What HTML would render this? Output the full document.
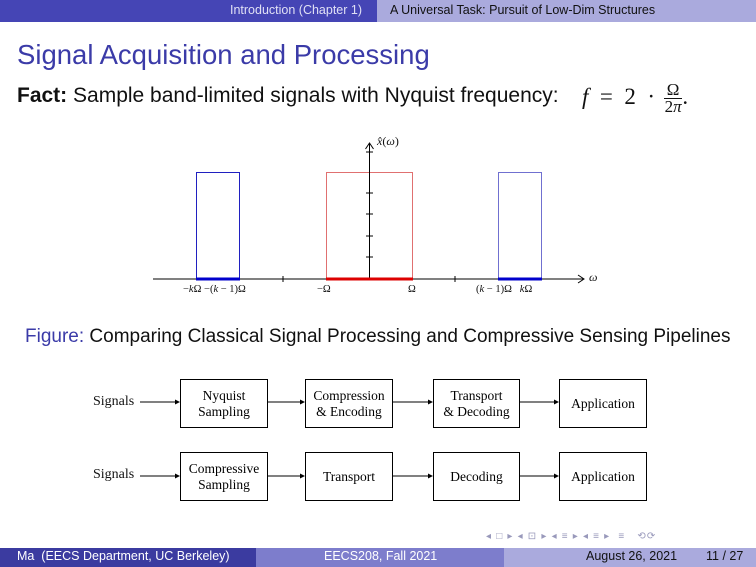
<!DOCTYPE html>
<html><head><style>
body{margin:0;width:756px;height:567px;overflow:hidden;background:#fff;font-family:"Liberation Sans",sans-serif;position:relative}
.a{position:absolute;white-space:nowrap}
.s{font-family:"Liberation Serif",serif;font-size:14px;color:#111}
.box{position:absolute;border:1.6px solid #000;box-sizing:border-box;display:flex;align-items:center;justify-content:center;text-align:center;font-family:"Liberation Serif",serif;font-size:13.5px;line-height:16px}
</style></head><body>
<div class="a" style="left:0;top:0;width:377px;height:22px;background:#4545b5"></div>
<div class="a" style="left:377px;top:0;width:379px;height:22px;background:#aaaadd"></div>
<div class="a" style="left:230px;top:3px;font-size:12.5px;color:#e0e0f5">Introduction (Chapter 1)</div>
<div class="a" style="left:390px;top:3px;font-size:12.5px;color:#111">A Universal Task: Pursuit of Low-Dim Structures</div>
<div class="a" style="left:17px;top:39px;font-size:27.5px;color:#3b3ba8">Signal Acquisition and Processing</div>
<div class="a" style="left:17px;top:84px;font-size:21px;color:#111"><b>Fact:</b> Sample band-limited signals with Nyquist frequency:</div>
<div class="a" style="left:582px;top:82px;font-size:23px;color:#111;font-family:'Liberation Serif',serif"><i>f</i>&nbsp; = &nbsp;2 &nbsp;· <span style="display:inline-block;vertical-align:middle;text-align:center;font-size:17px;line-height:16px;margin-left:3px"><span style="display:block;border-bottom:1px solid #111;padding:0 3px">Ω</span><span style="display:block">2<i>π</i></span></span>.</div>
<svg class="a" style="left:0;top:0" width="756" height="567">
<g fill="none" stroke-width="1">
<rect x="196.5" y="172.5" width="43" height="107" stroke="#2020c0"/>
<rect x="498.5" y="172.5" width="43" height="107" stroke="#7070d0"/>
<rect x="326.5" y="172.5" width="86" height="107" stroke="#e07070"/>
</g>
<line x1="153" y1="279" x2="583" y2="279" stroke="#000" stroke-width="1"/>
<path d="M578 275 L584 279 L578 283" fill="none" stroke="#000"/>
<line x1="369.5" y1="279" x2="369.5" y2="144" stroke="#000" stroke-width="1"/>
<path d="M365.5 149 L369.5 143 L373.5 149" fill="none" stroke="#000"/>
<g stroke="#000"><line x1="283" y1="276" x2="283" y2="282"/><line x1="455" y1="276" x2="455" y2="282"/>
<line x1="366" y1="152" x2="373" y2="152"/><line x1="366" y1="193" x2="373" y2="193"/><line x1="366" y1="214" x2="373" y2="214"/><line x1="366" y1="236" x2="373" y2="236"/><line x1="366" y1="257" x2="373" y2="257"/></g>
<line x1="196" y1="279" x2="240" y2="279" stroke="#0000cc" stroke-width="3"/>
<line x1="498" y1="279" x2="542" y2="279" stroke="#0000cc" stroke-width="3"/>
<line x1="326" y1="279" x2="413" y2="279" stroke="#dd0000" stroke-width="3"/>
<g stroke="#000" stroke-width="1">
<line x1="140" y1="402" x2="178" y2="402"/><line x1="268" y1="402" x2="303" y2="402"/><line x1="393" y1="402" x2="431" y2="402"/><line x1="520" y1="402" x2="557" y2="402"/>
<line x1="140" y1="476" x2="178" y2="476"/><line x1="268" y1="476" x2="303" y2="476"/><line x1="393" y1="476" x2="431" y2="476"/><line x1="520" y1="476" x2="557" y2="476"/>
</g>
<g fill="#000"><path d="M180 402 l-5 -2.5 v5z"/><path d="M305 402 l-5 -2.5 v5z"/><path d="M433 402 l-5 -2.5 v5z"/><path d="M559 402 l-5 -2.5 v5z"/>
<path d="M180 476 l-5 -2.5 v5z"/><path d="M305 476 l-5 -2.5 v5z"/><path d="M433 476 l-5 -2.5 v5z"/><path d="M559 476 l-5 -2.5 v5z"/></g>
</svg>
<div class="a s" style="left:377px;top:134px;font-size:12px"><i>x̂</i>(<i>ω</i>)</div>
<div class="a s" style="left:589px;top:270px;font-size:12px"><i>ω</i></div>
<div class="a s" style="left:183px;top:284px;font-size:10.5px">−<i>k</i>Ω −(<i>k</i> − 1)Ω</div>
<div class="a s" style="left:317px;top:284px;font-size:10.5px">−Ω</div>
<div class="a s" style="left:408px;top:284px;font-size:10.5px">Ω</div>
<div class="a s" style="left:476px;top:284px;font-size:10.5px">(<i>k</i> − 1)Ω &nbsp;&nbsp;<i>k</i>Ω</div>
<div class="a" style="left:25px;top:326px;font-size:19px;color:#111"><span style="color:#3b3ba8">Figure:</span> Comparing Classical Signal Processing and Compressive Sensing Pipelines</div>
<div class="a s" style="left:93px;top:394px">Signals</div>
<div class="a s" style="left:93px;top:467px">Signals</div>
<div class="box" style="left:180px;top:379px;width:88px;height:49px">Nyquist<br>Sampling</div>
<div class="box" style="left:305px;top:379px;width:88px;height:49px">Compression<br>&amp; Encoding</div>
<div class="box" style="left:433px;top:379px;width:87px;height:49px">Transport<br>&amp; Decoding</div>
<div class="box" style="left:559px;top:379px;width:88px;height:49px">Application</div>
<div class="box" style="left:180px;top:452px;width:88px;height:49px">Compressive<br>Sampling</div>
<div class="box" style="left:305px;top:452px;width:88px;height:49px">Transport</div>
<div class="box" style="left:433px;top:452px;width:87px;height:49px">Decoding</div>
<div class="box" style="left:559px;top:452px;width:88px;height:49px">Application</div>
<div class="a" style="left:486px;top:531px;font-size:10px;color:#9999bb;letter-spacing:1.2px">◂ □ ▸ ◂ ⊡ ▸ ◂ ≡ ▸ ◂ ≡ ▸ &nbsp;≡ &nbsp;&nbsp;⟲⟳</div>
<div class="a" style="left:0;top:548px;width:256px;height:19px;background:#3b3ba0"></div>
<div class="a" style="left:256px;top:548px;width:248px;height:19px;background:#7d7dcc"></div>
<div class="a" style="left:504px;top:548px;width:252px;height:19px;background:#aaaadd"></div>
<div class="a" style="left:17px;top:549px;font-size:12.5px;color:#fff">Ma &nbsp;(EECS Department, UC Berkeley)</div>
<div class="a" style="left:324px;top:549px;font-size:12.5px;color:#fff">EECS208, Fall 2021</div>
<div class="a" style="left:586px;top:549px;font-size:12.5px;color:#111">August 26, 2021</div>
<div class="a" style="left:706px;top:549px;font-size:12.5px;color:#111">11 / 27</div>
</body></html>
